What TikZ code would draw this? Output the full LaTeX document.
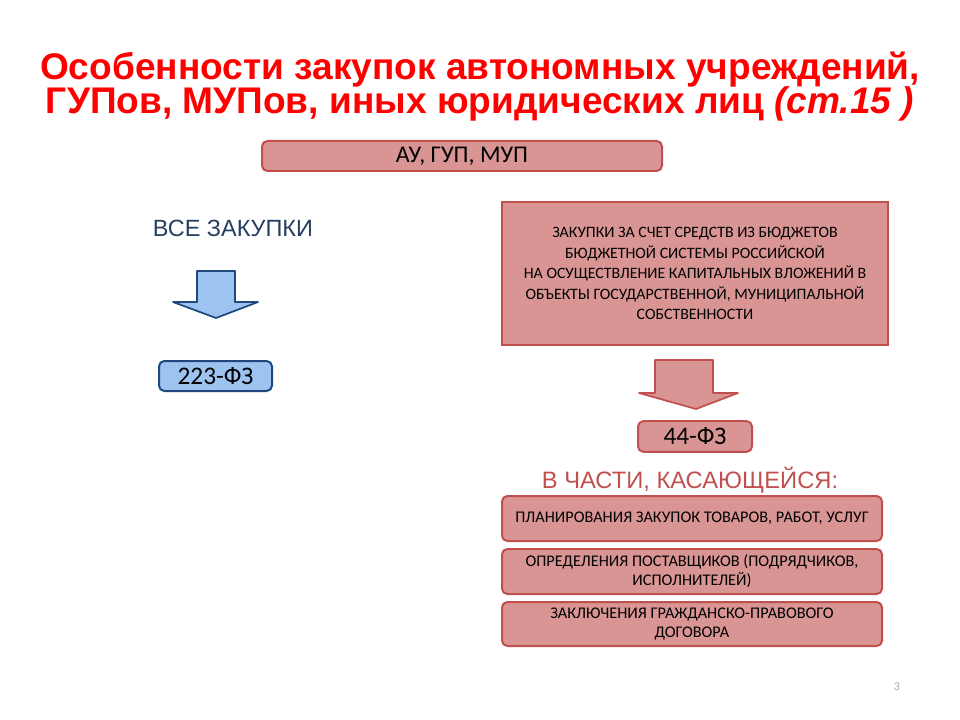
\documentclass[tikz,border=0pt]{standalone}
\usepackage{fontspec}
\setmainfont{Carlito}
\newfontfamily\arial{Liberation Sans}
\definecolor{rfill}{HTML}{D99594}
\definecolor{rdraw}{HTML}{C0504D}
\definecolor{bfill}{HTML}{9DC3F0}
\definecolor{bdraw}{HTML}{1F497D}
\definecolor{ttl}{HTML}{FF0000}
\definecolor{navy}{HTML}{243F60}
\begin{document}
\begin{tikzpicture}[x=0.75pt,y=-0.75pt,
  rbox/.style={draw=rdraw,fill=rfill,line width=1.5pt,rounded corners=4pt,align=center,inner sep=0pt},
  bbox/.style={draw=bdraw,fill=bfill,line width=1.5pt,rounded corners=4pt,align=center,inner sep=0pt}]
\useasboundingbox (0,0) rectangle (960,720);
\node (t1) at (480,70) {\arial\bfseries\fontsize{27.8}{32}\selectfont\color{ttl}Особенности закупок автономных учреждений,};
\node (t2) at (480,104) {\arial\bfseries\fontsize{27.8}{32}\selectfont\color{ttl}ГУПов, МУПов, иных юридических лиц \textit{(ст.15 )}};
\node[rbox,minimum width=300pt,minimum height=22.5pt,font=\fontsize{18}{20}\selectfont] (au) at (462,156) {АУ, ГУП, МУП};
\node (all) at (233,228) {\arial\fontsize{17.6}{20}\selectfont\color{navy}ВСЕ ЗАКУПКИ};
\draw[draw=bdraw,fill=bfill,line width=1.3pt,line join=round] (197,271) -- (235,271) -- (235,302) -- (258,302) -- (216,318) -- (173,302) -- (197,302) -- cycle;
\node[bbox,minimum width=84.75pt,minimum height=22.5pt,font=\fontsize{19}{21}\selectfont] (f223) at (215.5,376) {223-ФЗ};
\node[draw=rdraw,fill=rfill,line width=1.5pt,minimum width=289.5pt,minimum height=107pt,align=center,inner sep=0pt,font=\fontsize{11.9}{15.4}\selectfont] (big) at (695,273.5) {ЗАКУПКИ ЗА СЧЕТ СРЕДСТВ ИЗ БЮДЖЕТОВ\\БЮДЖЕТНОЙ СИСТЕМЫ РОССИЙСКОЙ\\НА ОСУЩЕСТВЛЕНИЕ КАПИТАЛЬНЫХ ВЛОЖЕНИЙ В\\ОБЪЕКТЫ ГОСУДАРСТВЕННОЙ, МУНИЦИПАЛЬНОЙ\\СОБСТВЕННОСТИ};
\draw[draw=rdraw,fill=rfill,line width=1.3pt,line join=round] (655,360) -- (713,360) -- (713,393) -- (738,393) -- (696,409) -- (639,393) -- (655,393) -- cycle;
\node[rbox,minimum width=85.5pt,minimum height=23pt,font=\fontsize{19}{21}\selectfont] (f44) at (695,436.5) {44-ФЗ};
\node (part) at (690,480) {\arial\fontsize{17.8}{20}\selectfont\color{rdraw}В ЧАСТИ, КАСАЮЩЕЙСЯ:};
\node[rbox,minimum width=285pt,minimum height=33.75pt,font=\fontsize{12.2}{14.5}\selectfont] (p1) at (692,518.5) {ПЛАНИРОВАНИЯ ЗАКУПОК ТОВАРОВ, РАБОТ, УСЛУГ};
\node[rbox,minimum width=285pt,minimum height=33.75pt,font=\fontsize{12.2}{14.5}\selectfont] (p2) at (692,571.5) {ОПРЕДЕЛЕНИЯ ПОСТАВЩИКОВ (ПОДРЯДЧИКОВ,\\ИСПОЛНИТЕЛЕЙ)};
\node[rbox,minimum width=285pt,minimum height=33pt,font=\fontsize{12.2}{14.5}\selectfont] (p3) at (692,624) {ЗАКЛЮЧЕНИЯ ГРАЖДАНСКО-ПРАВОВОГО\\ДОГОВОРА};
\node[text=gray!70,font=\fontsize{9}{11}\selectfont] (pg) at (897,687) {3};
\end{tikzpicture}
\end{document}
